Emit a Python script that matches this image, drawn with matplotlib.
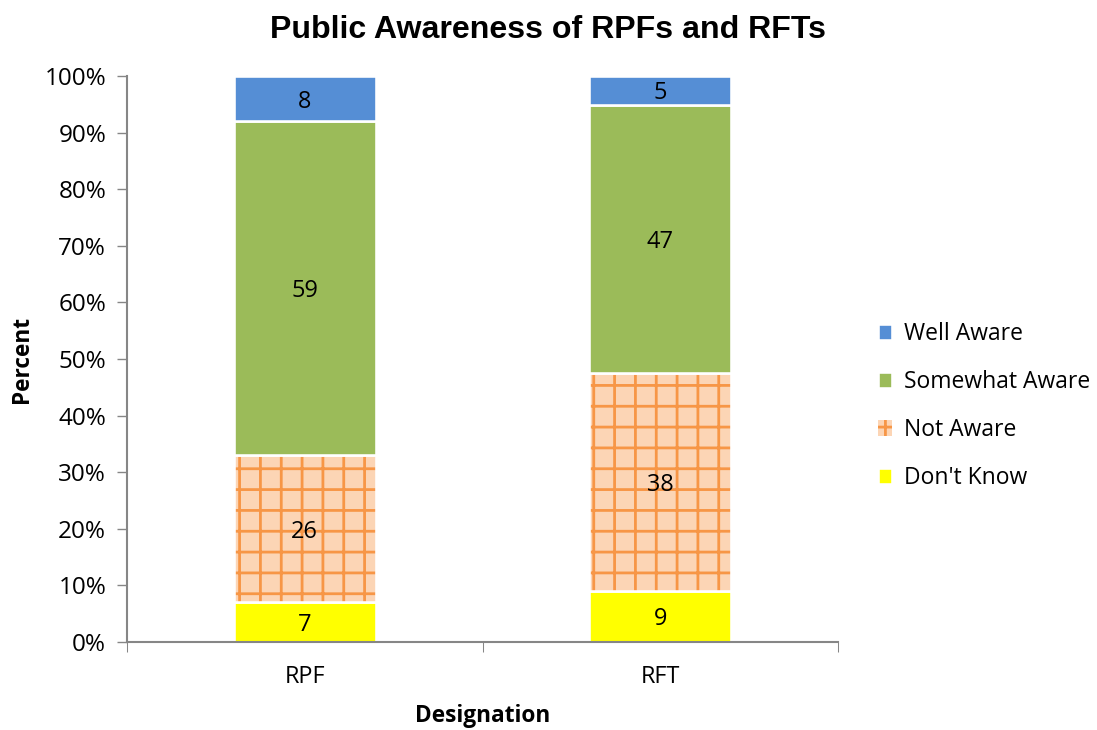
import matplotlib
matplotlib.use("Agg")
import matplotlib.pyplot as plt
import numpy as np

designations = ["RPF", "RFT"]
series = ["Don't Know", "Not Aware", "Somewhat Aware", "Well Aware"]
dont_know = [7, 9]
not_aware = [26, 38]
somewhat_aware = [59, 47]
well_aware = [8, 5]

colors = ["#FFFF00", "#FCD5B5", "#9BBB59", "#558ED5"]

plt.rcParams['font.family'] = ['Open Sans', 'DejaVu Sans']
plt.rcParams['hatch.linewidth'] = 1.6

dpi = 125
fig = plt.figure(figsize=(1097 / dpi, 730 / dpi), dpi=dpi)
ax = fig.add_axes([0.1158, 0.1205, 0.764 - 0.1158, 0.8959 - 0.1205])

data = np.array([dont_know, not_aware, somewhat_aware, well_aware], dtype=float)
totals = data.sum(axis=0)
pct = data / totals * 100

x = np.arange(len(designations))
width = 0.4
bottom = np.zeros(len(designations))
handles = []
for i, name in enumerate(series):
    if name == "Not Aware":
        h = ax.bar(x, pct[i], width, bottom=bottom, color=colors[i],
                   edgecolor="#F79646", hatch="+", linewidth=0, label=name)
        ax.bar(x, pct[i], width, bottom=bottom, fill=False,
               edgecolor="white", linewidth=1.5)
    else:
        h = ax.bar(x, pct[i], width, bottom=bottom, color=colors[i],
                   edgecolor="white", linewidth=1.5, label=name)
    handles.append(h)
    for xi, b, p, v in zip(x, bottom, pct[i], data[i]):
        ax.text(xi, b + p / 2, f"{int(v)}", ha="center", va="center_baseline",
                fontsize=13.5, color="black")
    bottom += pct[i]

ax.set_xlim(-0.5, 1.5)
ax.set_ylim(0, 100)
ax.set_yticks(np.arange(0, 101, 10))
ax.set_yticklabels([f"{v}%" for v in range(0, 101, 10)], fontsize=14)
ax.set_xticks(x)
ax.set_xticklabels(designations, fontsize=13.5)
ax.tick_params(axis="x", which="major", length=0, pad=13)
ax.set_xticks([-0.5, 0.5, 1.5], minor=True)
ax.tick_params(axis="x", which="minor", length=6, color="#868686", direction="out")
ax.tick_params(axis="y", length=6, color="#868686", direction="out", pad=6)

for s in ["top", "right"]:
    ax.spines[s].set_visible(False)
for s in ["left", "bottom"]:
    ax.spines[s].set_color("#868686")
    ax.spines[s].set_linewidth(1.2)

ax.set_ylabel("Percent", fontsize=13, fontweight="bold", labelpad=6)
ax.set_xlabel("Designation", fontsize=13, fontweight="bold", labelpad=9)
fig.suptitle("Public Awareness of RPFs and RFTs", fontsize=18.5, fontweight="bold",
             family=["Liberation Sans", "DejaVu Sans"], y=0.98)

ax.legend(handles[::-1], series[::-1], loc="center left",
          bbox_to_anchor=(0.8, 1 - 406 / 730), bbox_transform=fig.transFigure,
          frameon=False, fontsize=13.2, handlelength=0.65, handleheight=0.65,
          labelspacing=1.05, handletextpad=0.5, borderaxespad=0, borderpad=0)

fig.savefig("out.png", dpi=dpi)
